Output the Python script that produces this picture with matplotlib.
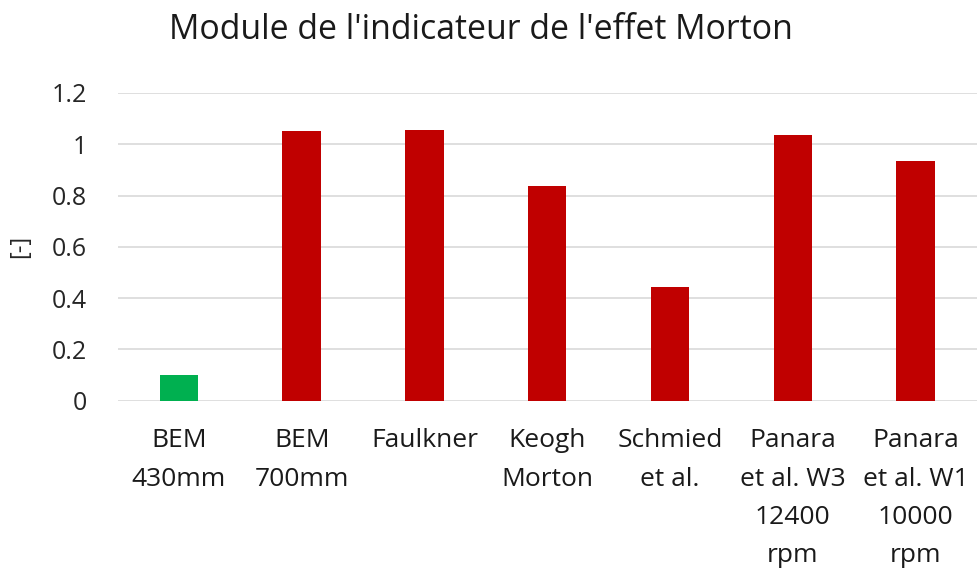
import matplotlib.pyplot as plt

# Morton effect indicator magnitude per method
categories = ['BEM\n430mm', 'BEM\n700mm', 'Faulkner', 'Keogh\nMorton', 'Schmied\net al.',
              'Panara\net al. W3\n12400\nrpm', 'Panara\net al. W1\n10000\nrpm']
values = [0.099, 1.050, 1.054, 0.836, 0.442, 1.035, 0.936]
colors = ['#00B050', '#C00000', '#C00000', '#C00000', '#C00000', '#C00000', '#C00000']
yticks = [0, 0.2, 0.4, 0.6, 0.8, 1, 1.2]
ytick_labels = ['0', '0.2', '0.4', '0.6', '0.8', '1', '1.2']

plt.rcParams['font.family'] = ['Open Sans', 'DejaVu Sans']

fig = plt.figure(figsize=(9.77, 5.73), dpi=100)
ax = fig.add_axes([0.1203, 0.3007, 0.8797, 0.537])

x = range(len(categories))
ax.bar(x, values, width=0.313, color=colors, zorder=3)

ax.set_xlim(-0.5, len(categories) - 0.5)
ax.set_ylim(0, 1.2)
ax.set_yticks(yticks)
ax.set_yticklabels(ytick_labels, fontsize=18, color='#262626')
ax.set_xticks(list(x))
ax.set_xticklabels(categories, fontsize=19, color='#1a1a1a', linespacing=1.70, va='top')
ax.tick_params(axis='both', length=0)
ax.tick_params(axis='x', pad=20)
ax.tick_params(axis='y', pad=22)

ax.grid(axis='y', color='#d9d9d9', linewidth=1.2, zorder=0)
for s in ax.spines.values():
    s.set_visible(False)

ax.set_ylabel('[-]', fontsize=17, color='#262626', labelpad=14)
fig.text(0.492, 0.948, "Module de l'indicateur de l'effet Morton", fontsize=24.4,
         color='#1a1a1a', ha='center', va='center')

fig.savefig('out.png', dpi=100)
